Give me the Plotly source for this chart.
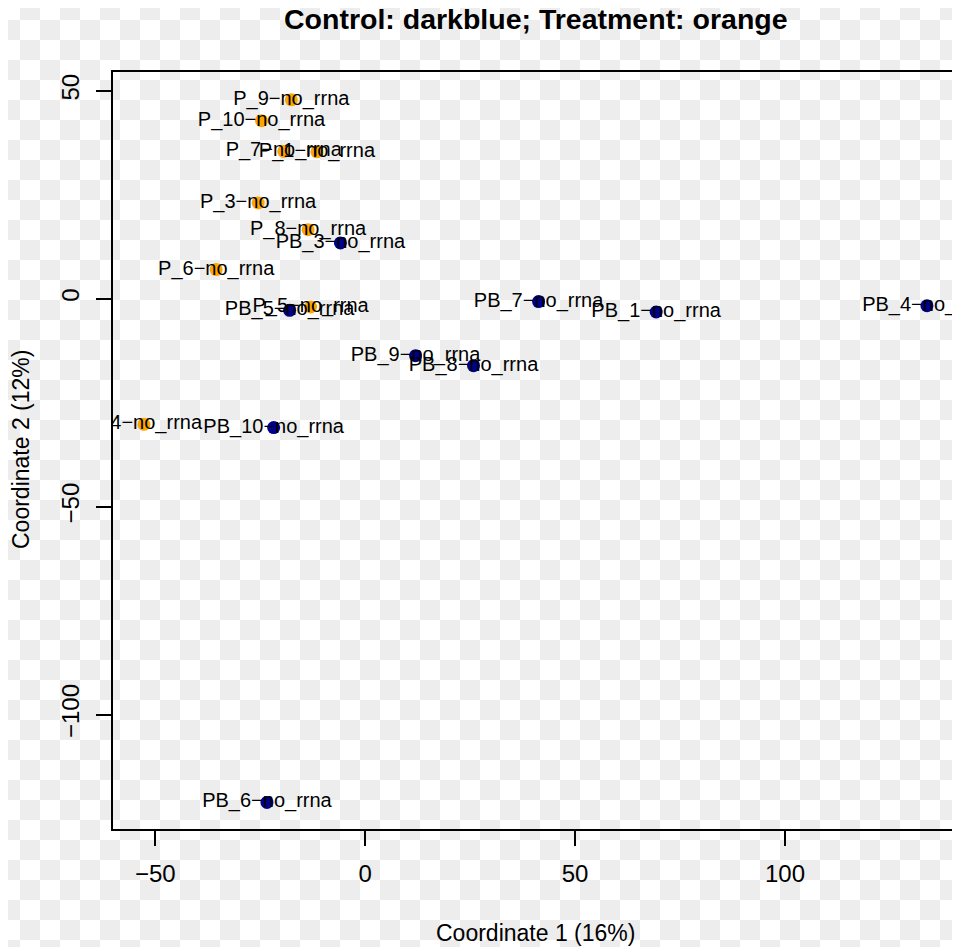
import base64
import plotly.graph_objects as go

# ---- data ----
treat_labels = ["P_9-no_rrna", "P_10-no_rrna", "P_7-no_rrna", "P_1-no_rrna", "P_3-no_rrna",
                "P_8-no_rrna", "P_6-no_rrna", "P_5-no_rrna", "P_4-no_rrna"]
treat_x = [-17.6, -24.7, -19.4, -11.5, -25.5, -13.6, -35.5, -13.0, -52.7]
treat_y = [47.8, 42.8, 35.4, 35.3, 23.0, 16.6, 7.0, -2.0, -30.2]

ctrl_labels = ["PB_3-no_rrna", "PB_5-no_rrna", "PB_7-no_rrna", "PB_1-no_rrna", "PB_4-no_rrna",
               "PB_9-no_rrna", "PB_8-no_rrna", "PB_10-no_rrna", "PB_6-no_rrna"]
ctrl_x = [-5.9, -18.0, 41.3, 69.3, 133.8, 12.0, 25.8, -21.8, -23.4]
ctrl_y = [13.4, -2.8, -0.7, -3.2, -1.7, -13.7, -16.1, -31.0, -121.1]

x_ticks = [-50, 0, 50, 100]
y_ticks = [-100, -50, 0, 50]

title_text = "Control: darkblue; Treatment: orange"
x_title = "Coordinate 1 (16%)"
y_title = "Coordinate 2 (12%)"

PAGE_W, PAGE_H = 960, 947
OFF = 8  # default page body margin
W, H = PAGE_W - OFF, PAGE_H - OFF
ML, MR, MT, MB = 113 - OFF, 2, 72 - OFF, 118
PW, PH = W - ML - MR, H - MT - MB
FONT = "Liberation Sans, Arial, Helvetica, sans-serif"

TITLE_Y = 19      # page pixel of title centre
YTITLE_X = 21     # page pixel of y-title centre


def disp(s):
    return s.replace("-", "\u2212")


fig = go.Figure()
fig.add_trace(go.Scatter(x=treat_x, y=treat_y, mode="markers", name="Treatment",
                         marker=dict(color="orange", size=13, line=dict(width=0))))
fig.add_trace(go.Scatter(x=ctrl_x, y=ctrl_y, mode="markers", name="Control",
                         marker=dict(color="darkblue", size=13, line=dict(width=0))))
fig.add_trace(go.Scatter(x=treat_x + ctrl_x, y=treat_y + ctrl_y, mode="text",
                         text=[disp(s) for s in treat_labels + ctrl_labels],
                         textposition="middle center",
                         textfont=dict(family=FONT, size=20, color="black"),
                         cliponaxis=True, hoverinfo="skip"))

# checkerboard backdrop seen in the reference image
svg = ('<svg xmlns="http://www.w3.org/2000/svg" width="%d" height="%d">'
       '<defs><pattern id="c" width="40" height="40" patternUnits="userSpaceOnUse">'
       '<rect width="40" height="40" fill="#ffffff"/>'
       '<rect x="20" y="0" width="20" height="20" fill="#ededed"/>'
       '<rect x="0" y="20" width="20" height="20" fill="#ededed"/>'
       '</pattern></defs><rect width="100%%" height="100%%" fill="url(#c)"/></svg>') % (PAGE_W, PAGE_H)
src = "data:image/svg+xml;base64," + base64.b64encode(svg.encode()).decode()

axis_common = dict(showline=True, linecolor="black", linewidth=2, mirror=True,
                   showgrid=False, zeroline=False, ticks="outside", ticklen=15,
                   tickwidth=1.5, tickcolor="black",
                   tickfont=dict(family=FONT, size=24, color="black"))

fig.update_layout(
    width=W, height=H,
    margin=dict(l=ML, r=MR, t=MT, b=MB, autoexpand=False),
    paper_bgcolor="white", plot_bgcolor="rgba(0,0,0,0)",
    showlegend=False,
    images=[dict(source=src, xref="paper", yref="paper",
                 x=-(ML + OFF) / PW, y=1 + (MT + OFF) / PH,
                 sizex=PAGE_W / PW, sizey=PAGE_H / PH,
                 xanchor="left", yanchor="top", sizing="stretch", layer="below")],
    xaxis=dict(range=[-60.07, 141.2], tickvals=x_ticks, ticklabelstandoff=7, **axis_common),
    yaxis=dict(range=[-127.5, 54.5], tickvals=y_ticks, tickangle=-90, ticklabelstandoff=7,
               **axis_common),
    annotations=[
        dict(text="<b>%s</b>" % title_text, xref="paper", yref="paper",
             x=0.5, y=1 + (MT - (TITLE_Y - OFF)) / PH, xanchor="center", yanchor="middle",
             showarrow=False, font=dict(family=FONT, size=28.5, color="black")),
        dict(text=x_title, xref="paper", yref="paper", x=0.5,
             y=-((933 - OFF) - MT - PH) / PH,
             xanchor="center", yanchor="middle", showarrow=False,
             font=dict(family=FONT, size=23, color="black")),
        dict(text=y_title, xref="paper", yref="paper", x=-(ML - (YTITLE_X - OFF)) / PW,
             y=1 - ((450 - OFF) - MT) / PH, xanchor="center", yanchor="middle", textangle=-90,
             showarrow=False, font=dict(family=FONT, size=23, color="black")),
    ],
)

fig.write_html("out.html")
